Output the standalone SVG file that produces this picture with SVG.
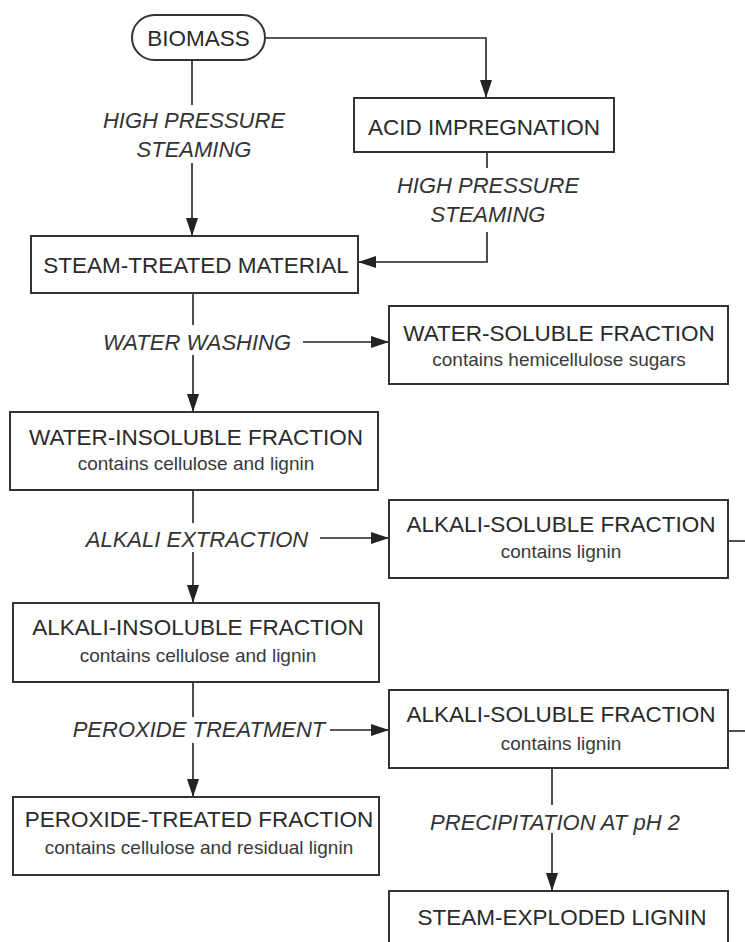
<svg xmlns="http://www.w3.org/2000/svg" width="745" height="942" viewBox="0 0 745 942">
<defs>
<marker id="ah" markerUnits="userSpaceOnUse" markerWidth="18" markerHeight="12" refX="18" refY="6" orient="auto">
<path d="M0,0 L18,6 L0,12 Z" fill="#222"/>
</marker>
<style>
.box{fill:#fff;stroke:#333;stroke-width:2}
.t{font-family:"Liberation Sans",Arial,sans-serif;font-size:22.5px;fill:#2a2a2a;text-anchor:middle}
.s{font-family:"Liberation Sans",Arial,sans-serif;font-size:19px;fill:#3a3a3a;text-anchor:middle}
.l{font-family:"Liberation Sans",Arial,sans-serif;font-size:22px;font-style:italic;fill:#333;text-anchor:middle}
.c{fill:none;stroke:#222;stroke-width:1.6}
.a{fill:none;stroke:#222;stroke-width:1.6;marker-end:url(#ah)}
</style>
</defs>
<rect width="745" height="942" fill="#fff"/>

<g id="connectors">
<path class="a" d="M265,38 H486 V98"/>
<path class="c" d="M192,60 V105"/>
<path class="a" d="M192,163 V236"/>
<path class="c" d="M487,152 V168"/>
<path class="a" d="M487,232 V262 H358"/>
<path class="c" d="M193,293 V325"/>
<path class="a" d="M303,342 H389"/>
<path class="a" d="M193,355 V412"/>
<path class="c" d="M193,490 V523"/>
<path class="a" d="M320,538 H389"/>
<path class="a" d="M193,552 V603"/>
<path class="c" d="M728,541 H745"/>
<path class="c" d="M193,682 V717"/>
<path class="a" d="M330,730 H389"/>
<path class="a" d="M193,743 V797"/>
<path class="c" d="M728,731 H745"/>
<path class="c" d="M552,768 V805"/>
<path class="a" d="M552,833 V891"/>
</g>

<g id="labels">
<text class="l" x="194" y="128">HIGH PRESSURE</text>
<text class="l" x="194" y="157">STEAMING</text>
<text class="l" x="488" y="193">HIGH PRESSURE</text>
<text class="l" x="488" y="222">STEAMING</text>
<text class="l" x="197" y="350">WATER WASHING</text>
<text class="l" x="197" y="547">ALKALI EXTRACTION</text>
<text class="l" x="199" y="737">PEROXIDE TREATMENT</text>
<text class="l" x="555" y="830">PRECIPITATION AT pH 2</text>
</g>

<g id="biomass">
<rect class="box" x="132" y="15" width="133" height="45" rx="22.5"/>
<text class="t" x="198.5" y="46">BIOMASS</text>
</g>

<g id="acid-impregnation">
<rect class="box" x="354" y="98" width="260" height="54"/>
<text class="t" x="484" y="135">ACID IMPREGNATION</text>
</g>

<g id="steam-treated">
<rect class="box" x="31" y="236" width="327" height="57"/>
<text class="t" x="196" y="273">STEAM-TREATED MATERIAL</text>
</g>

<g id="water-soluble">
<rect class="box" x="389" y="306" width="339" height="78"/>
<text class="t" x="559" y="341">WATER-SOLUBLE FRACTION</text>
<text class="s" x="559" y="366">contains hemicellulose sugars</text>
</g>

<g id="water-insoluble">
<rect class="box" x="10" y="412" width="368" height="78"/>
<text class="t" x="196" y="445">WATER-INSOLUBLE FRACTION</text>
<text class="s" x="196" y="470">contains cellulose and lignin</text>
</g>

<g id="alkali-soluble-1">
<rect class="box" x="389" y="500" width="339" height="78"/>
<text class="t" x="561" y="532">ALKALI-SOLUBLE FRACTION</text>
<text class="s" x="561" y="558">contains lignin</text>
</g>

<g id="alkali-insoluble">
<rect class="box" x="13" y="603" width="366" height="79"/>
<text class="t" x="198" y="635">ALKALI-INSOLUBLE FRACTION</text>
<text class="s" x="198" y="662">contains cellulose and lignin</text>
</g>

<g id="alkali-soluble-2">
<rect class="box" x="389" y="690" width="339" height="78"/>
<text class="t" x="561" y="722">ALKALI-SOLUBLE FRACTION</text>
<text class="s" x="561" y="750">contains lignin</text>
</g>

<g id="peroxide-treated">
<rect class="box" x="13" y="797" width="366" height="78"/>
<text class="t" x="199" y="827">PEROXIDE-TREATED FRACTION</text>
<text class="s" x="199" y="854">contains cellulose and residual lignin</text>
</g>

<g id="steam-exploded-lignin">
<rect class="box" x="389" y="891" width="339" height="60"/>
<text class="t" x="562" y="925">STEAM-EXPLODED LIGNIN</text>
</g>
</svg>
